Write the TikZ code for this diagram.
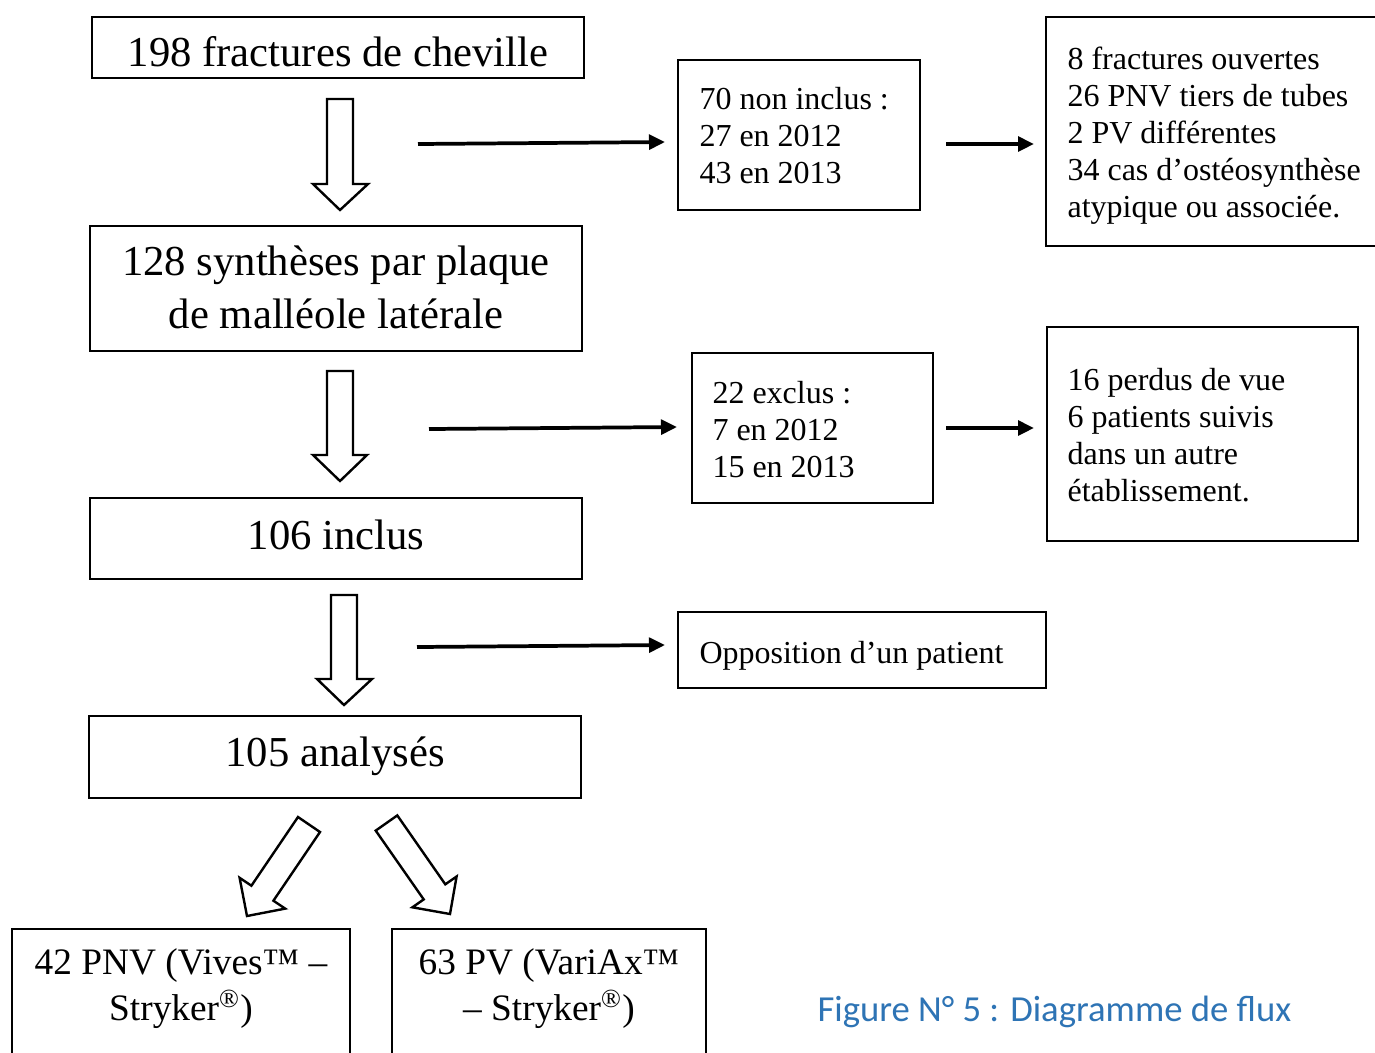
\documentclass[tikz,border=0pt]{standalone}
\usepackage{fontspec}
\setmainfont{Liberation Serif}
\newfontfamily\capfont{Carlito}
\usetikzlibrary{arrows.meta,fit}
\definecolor{capblue}{RGB}{46,116,181}
\newcommand\leftlines[1]{\begin{tabular}[t]{@{}l@{}}#1\end{tabular}}
\newcommand\midlines[1]{\begin{tabular}[t]{@{}c@{}}#1\end{tabular}}
\begin{document}
\begin{tikzpicture}[x=0.375pt,y=-0.375pt,
  box/.style={draw, line width=1pt, inner sep=0pt},
  small/.style={inner sep=0pt, anchor=base west, font=\fontsize{12}{13.9}\selectfont},
  big/.style={inner sep=0pt, anchor=base, font=\fontsize{16}{20.2}\selectfont},
  mid/.style={inner sep=0pt, anchor=base, font=\fontsize{14}{17.6}\selectfont},
  hollow/.style={draw, line width=0.9pt, line join=miter, fill=white},
  thin/.style={line width=1.4pt, -{Triangle[length=6pt,width=5.5pt]}},
]
\useasboundingbox (0,0) rectangle (1375,1052);
\clip (0,0) rectangle (1375,1052);
\fill[white] (0,0) rectangle (1375,1052);

% boxes
\node[box, fit={(92,17) (584,78)}] (b1) {};
\node[box, fit={(678,60) (920,210)}] (b2) {};
\node[box, fit={(1046,17) (1395,246)}] (b3) {};
\node[box, fit={(90,226) (582,351)}] (b4) {};
\node[box, fit={(692,353) (933,503)}] (b5) {};
\node[box, fit={(1047,327) (1358,541)}] (b6) {};
\node[box, fit={(90,498) (582,579)}] (b7) {};
\node[box, fit={(678,612) (1046,688)}] (b8) {};
\node[box, fit={(89,716) (581,798)}] (b9) {};
\node[box, fit={(12,929) (350,1075)}] (b10) {};
\node[box, fit={(392,929) (706,1075)}] (b11) {};

% texts
\node[big] (t1) at (338,66) {198 fractures de cheville};
\node[small] (t2) at (699,109.5) {\leftlines{70 non inclus :\\27 en 2012\\43 en 2013}};
\node[small] (t3) at (1067,69) {\leftlines{8 fractures ouvertes\\26 PNV tiers de tubes\\2 PV différentes\\34 cas d’ostéosynthèse\\atypique ou associée.}};
\node[big] (t4) at (336,275) {\midlines{128 synthèses par plaque\\de malléole latérale}};
\node[small] (t5) at (712,403.5) {\leftlines{22 exclus :\\7 en 2012\\15 en 2013}};
\node[small] (t6) at (1067,390) {\leftlines{16 perdus de vue\\6 patients suivis\\dans un autre\\établissement.}};
\node[big] (t7) at (336,549) {106 inclus};
\node[small] (t8) at (699,663) {Opposition d’un patient};
\node[big] (t9) at (335,766) {105 analysés};
\node[mid] (t10) at (181,974) {\midlines{42 PNV (Vives™ –\\Stryker\textsuperscript{®})}};
\node[mid] (t11) at (549,974) {\midlines{63 PV (VariAx™\\– Stryker\textsuperscript{®})}};
\node[inner sep=0pt, anchor=base west, text=capblue, font=\capfont\fontsize{13.75}{17}\selectfont] (cap) at (817,1021) {Figure N° 5 : Diagramme de flux};

% hollow block arrows
\draw[hollow] (327,99) -- (353,99) -- (353,184) -- (368,184) -- (340,210) -- (313,184) -- (327,184) -- cycle;
\draw[hollow] (327,371) -- (353,371) -- (353,455) -- (367,455) -- (340,481) -- (313,455) -- (327,455) -- cycle;
\draw[hollow] (331,595) -- (357,595) -- (357,679) -- (372,679) -- (344,705) -- (317,679) -- (331,679) -- cycle;
\draw[hollow] (320.0,832.0) -- (273.4,900.7) -- (285.2,908.6) -- (247,916) -- (239.6,877.8) -- (251.4,885.7) -- (298,817) -- cycle;
\draw[hollow] (375.7,830.6) -- (423.7,899.4) -- (412.4,907.3) -- (450,914) -- (456.6,876.5) -- (445.3,884.3) -- (397.3,815.4) -- cycle;

% thin arrows
\coordinate (a1s) at (418,144); \coordinate (a1e) at (665,142);
\coordinate (a2s) at (429,429); \coordinate (a2e) at (677,427);
\coordinate (a3s) at (417,647); \coordinate (a3e) at (665,645);
\coordinate (c1s) at (946,144); \coordinate (c1e) at (1034,144);
\coordinate (c2s) at (946,428); \coordinate (c2e) at (1034,428);
\draw[thin] (a1s) -- (a1e);
\draw[thin] (a2s) -- (a2e);
\draw[thin] (a3s) -- (a3e);
\draw[thin] (c1s) -- (c1e);
\draw[thin] (c2s) -- (c2e);
\end{tikzpicture}
\end{document}
